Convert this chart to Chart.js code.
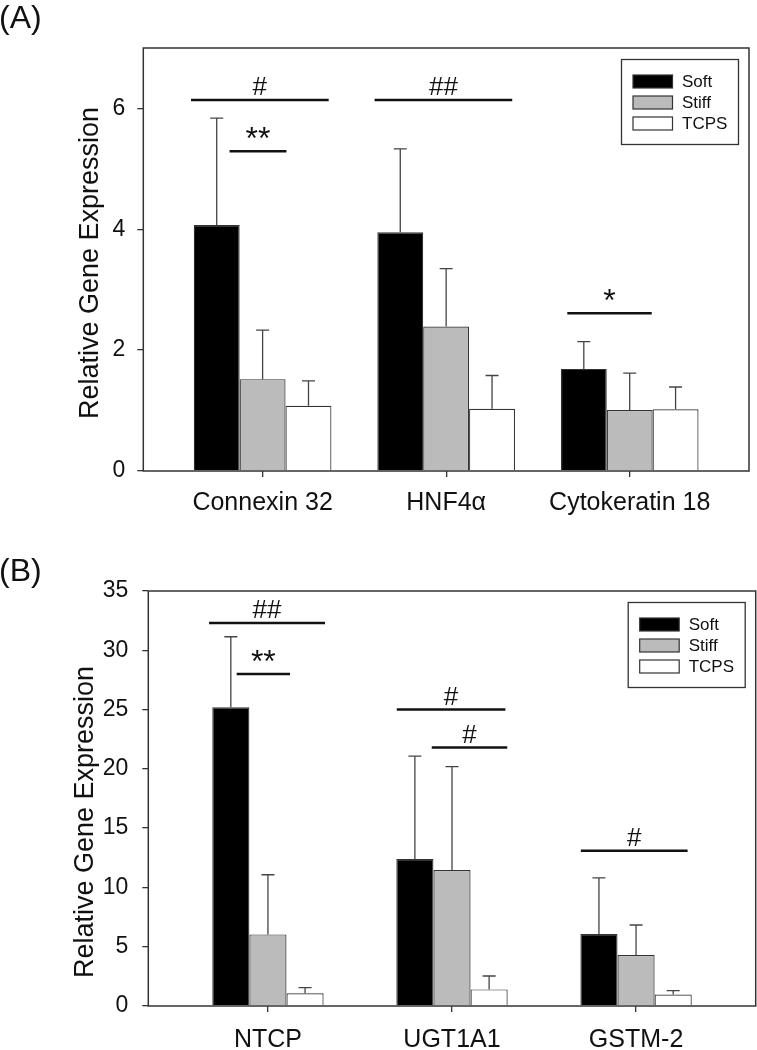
<!DOCTYPE html>
<html>
<head>
<meta charset="utf-8">
<script src="https://cdn.jsdelivr.net/npm/chart.js@4.4.1/dist/chart.umd.min.js"></script>
<style>
  html, body { margin: 0; padding: 0; background: #fff; }
  #wrap { position: relative; width: 757px; height: 1050px; }
  .panel { position: absolute; left: 0; width: 757px; height: 525px; }
</style>
</head>
<body>
<div id="wrap">
  <div class="panel" style="top:0"><canvas id="chartA"></canvas></div>
  <div class="panel" style="top:525px"><canvas id="chartB"></canvas></div>
</div>
<script>
// ---- data, panel A ----
var genesA = ['Connexin 32', 'HNF4α', 'Cytokeratin 18'];
var softA = [4.07, 3.95, 1.69];
var stiffA = [1.52, 2.39, 1.01];
var tcpsA = [1.08, 1.03, 1.02];
var softErrA = [1.77, 1.38, 0.45];
var stiffErrA = [0.81, 0.96, 0.61];
var tcpsErrA = [0.41, 0.55, 0.37];
var yTicksA = [0, 2, 4, 6];
// significance bars: gene index, span (in gene units around it), height, mark
var sigA = [
  { gene: 0, from: -0.39, to: 0.36, y: 6.14, mark: '#' },
  { gene: 0, from: -0.18, to: 0.13, y: 5.29, mark: '**' },
  { gene: 1, from: -0.39, to: 0.36, y: 6.14, mark: '##' },
  { gene: 2, from: -0.34, to: 0.12, y: 2.61, mark: '*' }
];

// ---- data, panel B ----
var genesB = ['NTCP', 'UGT1A1', 'GSTM-2'];
var softB = [25.2, 12.4, 6.07];
var stiffB = [6.04, 11.47, 4.3];
var tcpsB = [1.07, 1.4, 0.96];
var softErrB = [5.94, 8.68, 4.73];
var stiffErrB = [5.03, 8.71, 2.53];
var tcpsErrB = [0.48, 1.13, 0.33];
var yTicksB = [0, 5, 10, 15, 20, 25, 30, 35];
var sigB = [
  { gene: 0, from: -0.32, to: 0.31, y: 32.3, mark: '##' },
  { gene: 0, from: -0.17, to: 0.12, y: 28.0, mark: '**' },
  { gene: 1, from: -0.30, to: 0.29, y: 25.0, mark: '#' },
  { gene: 1, from: -0.11, to: 0.30, y: 21.8, mark: '#' },
  { gene: 2, from: -0.30, to: 0.28, y: 13.1, mark: '#' }
];

var groups = ['Soft', 'Stiff', 'TCPS'];
var fills = ['#000000', '#bbbbbb', '#ffffff'];
var FONT = "'Liberation Sans', Arial, Helvetica, sans-serif";

// error bars, significance bars, frame, legend, axis title, panel letter
var extras = {
  id: 'extras',
  afterDatasetsDraw: function (chart, args, opts) {
    var ctx = chart.ctx, area = chart.chartArea;
    var xs = chart.scales.x, ys = chart.scales.y;
    ctx.save();

    ctx.strokeStyle = '#444';
    ctx.lineWidth = 1.3;
    chart.data.datasets.forEach(function (ds, d) {
      chart.getDatasetMeta(d).data.forEach(function (bar, i) {
        var top = ys.getPixelForValue(ds.data[i].y + ds.errors[i]);
        ctx.beginPath();
        ctx.moveTo(bar.x, bar.y);
        ctx.lineTo(bar.x, top);
        ctx.moveTo(bar.x - 6.5, top);
        ctx.lineTo(bar.x + 6.5, top);
        ctx.stroke();
      });
    });

    ctx.strokeStyle = '#111';
    ctx.fillStyle = '#111';
    ctx.lineWidth = 2.5;
    ctx.textAlign = 'center';
    ctx.textBaseline = 'alphabetic';
    opts.sig.forEach(function (s) {
      var x1 = xs.getPixelForValue(s.gene + s.from);
      var x2 = xs.getPixelForValue(s.gene + s.to);
      var yy = ys.getPixelForValue(s.y);
      ctx.beginPath();
      ctx.moveTo(x1, yy);
      ctx.lineTo(x2, yy);
      ctx.stroke();
      var star = s.mark.charAt(0) === '*';
      ctx.font = (star ? '32px ' : '26px ') + FONT;
      ctx.fillText(s.mark, (x1 + x2) / 2, yy - (star ? 2 : 5));
    });

    // frame round the plot
    ctx.strokeStyle = '#333';
    ctx.lineWidth = 1.5;
    ctx.strokeRect(area.left, area.top, area.right - area.left, area.bottom - area.top);

    // legend box
    var bw = 117, bh = 85;
    var bx = area.right - 10.5 - bw, by = area.top + 11.5;
    ctx.lineWidth = 1.3;
    ctx.strokeRect(bx, by, bw, bh);
    ctx.font = '17px ' + FONT;
    ctx.textAlign = 'left';
    ctx.textBaseline = 'middle';
    groups.forEach(function (g, k) {
      var sy = by + 15.5 + k * 21;
      ctx.fillStyle = fills[k];
      ctx.fillRect(bx + 11.5, sy, 39.5, 13);
      ctx.strokeStyle = '#333';
      ctx.lineWidth = 1.2;
      ctx.strokeRect(bx + 11.5, sy, 39.5, 13);
      ctx.fillStyle = '#111';
      ctx.fillText(g, bx + 60.5, sy + 7);
    });

    // y axis title
    ctx.save();
    ctx.translate(opts.titleX, opts.titleY);
    ctx.rotate(-Math.PI / 2);
    ctx.textAlign = 'center';
    ctx.font = '27px ' + FONT;
    ctx.fillText('Relative Gene Expression', 0, 0);
    ctx.restore();

    ctx.font = '32px ' + FONT;
    ctx.textAlign = 'left';
    ctx.textBaseline = 'alphabetic';
    ctx.fillText(opts.panel, -1, opts.panelY);
    ctx.restore();
  }
};

function makeChart(id, genes, vals, errs, yTicks, yMax, sig, cfg) {
  var datasets = groups.map(function (g, k) {
    return {
      label: g,
      data: vals[k].map(function (v, i) { return { x: i, y: v }; }),
      errors: errs[k],
      backgroundColor: fills[k],
      borderColor: '#333',
      borderWidth: 1.2,
      categoryPercentage: cfg.groupWidth,
      barPercentage: 1.0
    };
  });
  return new Chart(document.getElementById(id), {
    type: 'bar',
    data: { datasets: datasets },
    options: {
      responsive: true,
      maintainAspectRatio: false,
      animation: false,
      layout: { padding: { top: cfg.top, right: cfg.right, left: 0, bottom: 0 } },
      plugins: {
        legend: { display: false },
        tooltip: { enabled: false },
        extras: { sig: sig, panel: cfg.panel, panelY: cfg.panelY, titleX: cfg.titleX, titleY: cfg.titleY }
      },
      scales: {
        x: {
          type: 'linear',
          min: -0.65,
          max: 2.65,
          offset: false,
          afterBuildTicks: function (s) {
            s.ticks = genes.map(function (g, i) { return { value: i }; });
          },
          afterFit: function (s) { s.height = cfg.xHeight; },
          ticks: {
            autoSkip: false,
            maxRotation: 0,
            padding: cfg.xPad,
            color: '#111',
            font: { family: FONT, size: 25 },
            callback: function (v) { return genes[v]; }
          },
          grid: { display: true, offset: false, drawOnChartArea: false, drawTicks: true, tickLength: 6, color: '#333', lineWidth: 1.3 },
          border: { display: false }
        },
        y: {
          min: 0,
          max: yMax,
          afterBuildTicks: function (s) {
            s.ticks = yTicks.map(function (t) { return { value: t }; });
          },
          afterFit: function (s) { s.width = cfg.yWidth; },
          ticks: {
            padding: cfg.yPad,
            color: '#111',
            font: { family: FONT, size: 23 },
            callback: function (v) { return String(v); }
          },
          grid: { display: true, drawOnChartArea: false, drawTicks: true, tickLength: 6, color: '#333', lineWidth: 1.3 },
          border: { display: false }
        }
      }
    },
    plugins: [extras]
  });
}

makeChart('chartA', genesA, [softA, stiffA, tcpsA], [softErrA, stiffErrA, tcpsErrA], yTicksA, 7, sigA,
  { groupWidth: 0.75, top: 48, right: 8, xHeight: 54, xPad: 11, yWidth: 143.3, yPad: 12,
    titleX: 91, titleY: 263, panel: '(A)', panelY: 28 });

makeChart('chartB', genesB, [softB, stiffB, tcpsB], [softErrB, stiffErrB, tcpsErrB], yTicksB, 35, sigB,
  { groupWidth: 0.605, top: 66, right: 1.3, xHeight: 44, xPad: 13, yWidth: 148.3, yPad: 14,
    titleX: 86, titleY: 297, panel: '(B)', panelY: 56 });
</script>
</body>
</html>
